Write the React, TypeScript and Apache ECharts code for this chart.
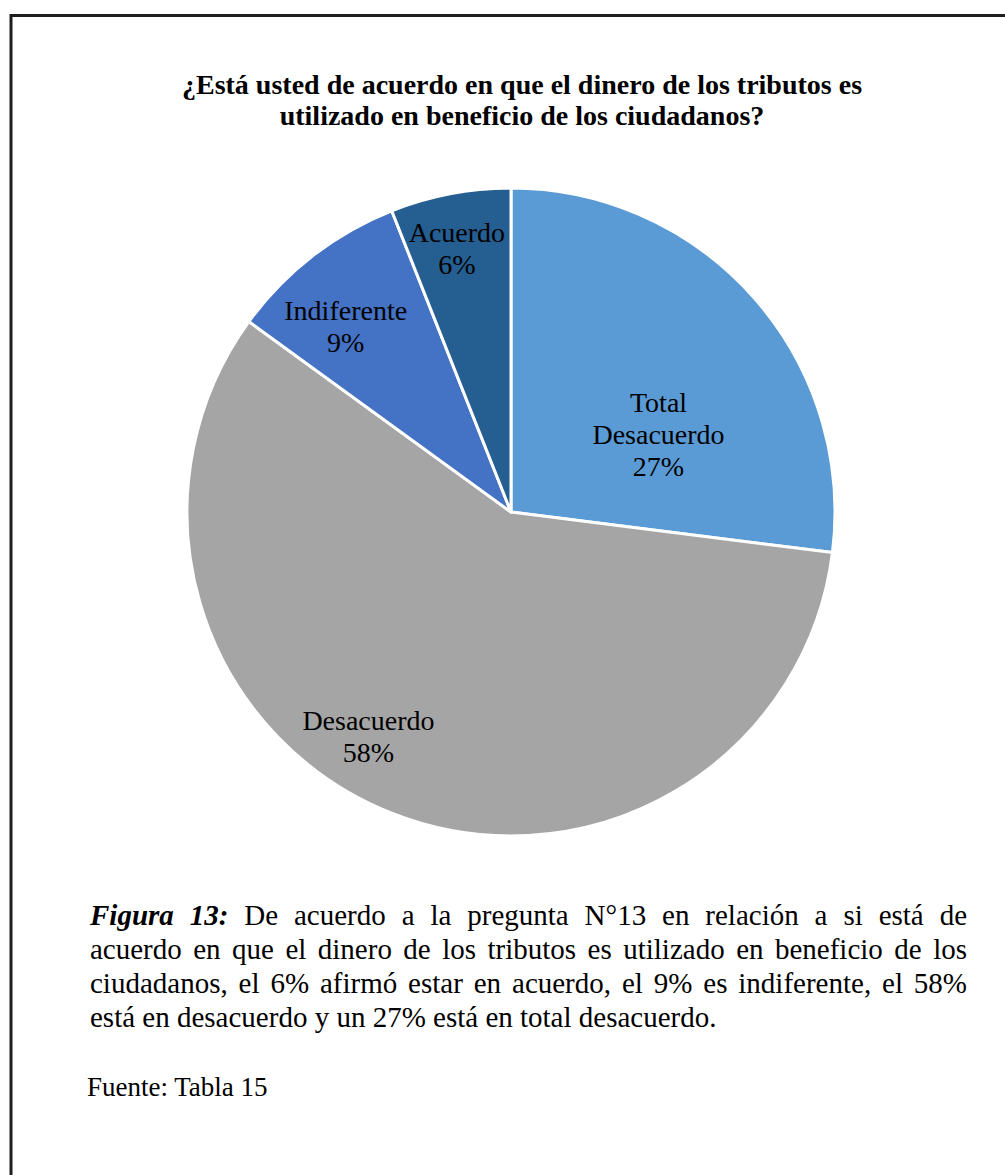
import React, { useEffect, useRef } from "react";
import * as echarts from "echarts";

// ---- data ----
const categories = ["Total Desacuerdo", "Desacuerdo", "Indiferente", "Acuerdo"];
const values = [27, 58, 9, 6];
const sliceColors = ["#5B9BD5", "#A5A5A5", "#4472C4", "#255E91"];
const titleLines = [
  "¿Está usted de acuerdo en que el dinero de los tributos es",
  "utilizado en beneficio de los ciudadanos?",
];
const captionLines = [
  "Figura 13: De acuerdo a la pregunta N°13 en relación a si está de",
  "acuerdo en que el dinero de los tributos es utilizado en beneficio de los",
  "ciudadanos, el 6% afirmó estar en acuerdo, el 9% es indiferente, el 58%",
  "está en desacuerdo y un 27% está en total desacuerdo.",
];
const captionBoldWords = 2; // "Figura 13:" in bold italic
const sourceText = "Fuente: Tabla 15";

// ---- layout / style ----
const W = 1005;
const H = 1175;
const CX = 511;
const CY = 512;
const R = 324;
// label anchor: [angle shift from slice mid-angle (deg), radius fraction]
const labelPolar = [
  [13.75, 0.514],
  [10.8, 0.821],
  [-3.9, 0.767],
  [-0.8, 0.831],
];
const FONT = '"Liberation Serif", "Times New Roman", serif';

function wrapName(n: string) {
  return n === "Total Desacuerdo" ? "Total\nDesacuerdo" : n;
}

function buildCaption(): any[] {
  const canvas = document.createElement("canvas");
  const ctx = canvas.getContext("2d") as CanvasRenderingContext2D;
  const size = 29;
  const left = 90;
  const right = 967;
  const firstMid = 915;
  const lh = 34;
  const els: any[] = [];
  captionLines.forEach((line, li) => {
    const y = firstMid + li * lh;
    const words = line.split(" ");
    const isLast = li === captionLines.length - 1;
    const wordStyle = (wi: number) => {
      const bi = li === 0 && wi < captionBoldWords;
      return {
        fontStyle: bi ? "italic" : "normal",
        fontWeight: bi ? "bold" : "normal",
      };
    };
    if (isLast) {
      els.push({
        type: "text",
        x: left,
        y,
        style: {
          text: line,
          fontFamily: FONT,
          fontSize: size,
          fill: "#000",
          align: "left",
          verticalAlign: "middle",
        },
      });
      return;
    }
    const widths = words.map((w, wi) => {
      const s = wordStyle(wi);
      ctx.font = `${s.fontStyle} ${s.fontWeight} ${size}px ${FONT}`;
      return ctx.measureText(w).width;
    });
    const total = widths.reduce((a, b) => a + b, 0);
    const gap = (right - left - total) / (words.length - 1);
    let x = left;
    words.forEach((w, wi) => {
      const s = wordStyle(wi);
      els.push({
        type: "text",
        x,
        y,
        style: {
          text: w,
          fontFamily: FONT,
          fontSize: size,
          fontStyle: s.fontStyle,
          fontWeight: s.fontWeight,
          fill: "#000",
          align: "left",
          verticalAlign: "middle",
        },
      });
      x += widths[wi] + gap;
    });
  });
  els.push({
    type: "text",
    x: left - 3,
    y: 1087,
    style: {
      text: sourceText,
      fontFamily: FONT,
      fontSize: 27,
      fill: "#000",
      align: "left",
      verticalAlign: "middle",
    },
  });
  return els;
}

export default function App() {
  const ref = useRef<HTMLDivElement>(null);
  useEffect(() => {
    if (!ref.current) return;
    const chart = echarts.init(ref.current, null, { renderer: "svg" });
    const total = values.reduce((a, b) => a + b, 0);
    const data = categories.map((c, i) => ({
      name: c,
      value: values[i],
      itemStyle: { color: sliceColors[i] },
    }));
    const titleEls = titleLines.map((t, i) => ({
      type: "text",
      x: 522,
      y: 84 + i * 31,
      style: {
        text: t,
        fontFamily: FONT,
        fontSize: 28,
        fontWeight: "bold",
        fill: "#000",
        align: "center",
        verticalAlign: "middle",
      },
    }));
    chart.setOption({
      animation: false,
      backgroundColor: "#fff",
      graphic: [
        {
          type: "rect",
          shape: { x: 11, y: 15.5, width: 1200, height: 1400 },
          style: { fill: "none", stroke: "#1e1e1e", lineWidth: 3 },
          silent: true,
        },
        ...titleEls,
        ...buildCaption(),
      ],
      series: [
        {
          type: "pie",
          center: [CX, CY],
          radius: R,
          startAngle: 90,
          clockwise: true,
          data,
          itemStyle: { borderColor: "#fff", borderWidth: 3 },
          emphasis: { disabled: true },
          label: {
            show: true,
            position: "inside",
            fontFamily: FONT,
            fontSize: 28,
            lineHeight: 32,
            color: "#000",
            textBorderWidth: 0,
            formatter: (p: any) => `${wrapName(p.name)}\n${Math.round(p.percent)}%`,
          },
          labelLine: { show: false },
          labelLayout: (params: any) => {
            const i = params.dataIndex;
            let cum = 0;
            for (let j = 0; j < i; j++) cum += values[j];
            const mid = ((cum + values[i] / 2) / total) * 360 + labelPolar[i][0];
            const rr = R * labelPolar[i][1];
            const rad = (mid * Math.PI) / 180;
            return {
              x: CX + rr * Math.sin(rad),
              y: CY - rr * Math.cos(rad),
              align: "center",
              verticalAlign: "middle",
            };
          },
        },
      ],
    });
    return () => chart.dispose();
  }, []);
  return (
    <div
      ref={ref}
      style={{ position: "absolute", left: 0, top: 0, width: W, height: H }}
    />
  );
}
